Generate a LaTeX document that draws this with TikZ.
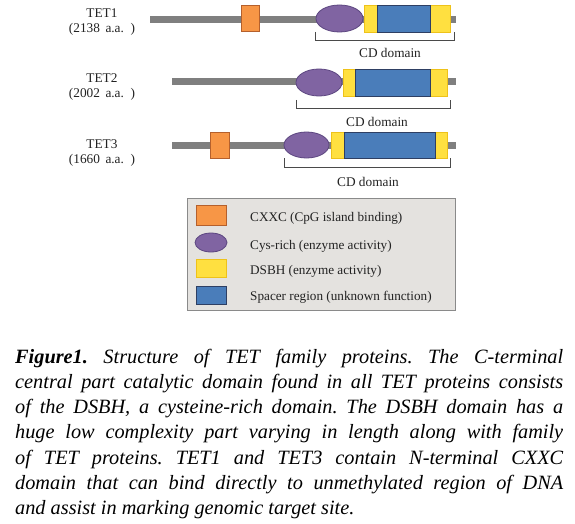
\documentclass[tikz,border=0pt]{standalone}
\usepackage{fontspec}
\setmainfont{Liberation Serif}
\usetikzlibrary{shapes.geometric}
\definecolor{bbone}{HTML}{7F7F7F}
\definecolor{orf}{HTML}{F79646}
\definecolor{ord}{HTML}{B5602C}
\definecolor{puf}{HTML}{8064A2}
\definecolor{pud}{HTML}{5C4680}
\definecolor{yef}{HTML}{FFE040}
\definecolor{yed}{HTML}{EEC21A}
\definecolor{blf}{HTML}{4A7DBA}
\definecolor{bld}{HTML}{2E3F63}
\definecolor{brk}{HTML}{4A4A4A}
\definecolor{legf}{HTML}{E4E2DF}
\definecolor{legd}{HTML}{8A8A8A}
\definecolor{txt}{HTML}{222222}
\tikzset{
  backbone/.style={draw=bbone, line width=7pt},
  cxxc/.style={rectangle, draw=ord, fill=orf, line width=0.8pt, inner sep=0pt},
  cys/.style={ellipse, draw=pud, fill=puf, line width=0.8pt, inner sep=0pt},
  dsbh/.style={rectangle, draw=yed, fill=yef, line width=0.9pt, inner sep=0pt},
  spacer/.style={rectangle, draw=bld, fill=blf, line width=0.9pt, inner sep=0pt},
  bracket/.style={draw=brk, line width=0.8pt},
  lbl/.style={font=\fontsize{13.3}{15}\selectfont, text=txt, inner sep=0pt},
  legtxt/.style={font=\fontsize{13.2}{15}\selectfont, text=txt, inner sep=0pt, anchor=west},
}
\begin{document}
\begin{tikzpicture}[x=1pt,y=-1pt]
\useasboundingbox (0,0) rectangle (575,524);
\fill[white] (0,0) rectangle (575,524);

% ---------- TET1 ----------
\node[lbl] (n1) at (102,13) {TET1};
\node[lbl] (n1b) at (102,29) {(2138\, a.a.\, )};
\coordinate (t1s) at (150,19.3);
\coordinate (t1e) at (456,19.3);
\draw[backbone] (t1s) -- (t1e);
\node[cxxc, minimum width=18pt, minimum height=26pt] (t1o) at (250,18.7) {};
\node[cys, minimum width=47pt, minimum height=27pt] (t1c) at (339.5,18.5) {};
\node[dsbh, minimum width=86pt, minimum height=27pt] (t1y) at (407,18.5) {};
\node[spacer, minimum width=53pt, minimum height=27pt] (t1b) at (403.5,18.5) {};
\coordinate (b1a) at (315,32);
\coordinate (b1b) at (454,32);
\draw[bracket] (b1a) -- ++(0,8) -| (b1b);
\node[lbl] (cd1) at (390,53) {CD domain};

% ---------- TET2 ----------
\node[lbl] (n2) at (102,78) {TET2};
\node[lbl] (n2b) at (102,94) {(2002\, a.a.\, )};
\coordinate (t2s) at (172,82);
\coordinate (t2e) at (456,82);
\draw[backbone] (t2s) -- (t2e);
\node[cys, minimum width=46pt, minimum height=27pt] (t2c) at (319,82.5) {};
\node[dsbh, minimum width=104pt, minimum height=27pt] (t2y) at (395,82.5) {};
\node[spacer, minimum width=75pt, minimum height=27pt] (t2b) at (392.5,82.5) {};
\coordinate (b2a) at (296,100);
\coordinate (b2b) at (450,100);
\draw[bracket] (b2a) -- ++(0,8) -| (b2b);
\node[lbl] (cd2) at (377,122) {CD domain};

% ---------- TET3 ----------
\node[lbl] (n3) at (102,144) {TET3};
\node[lbl] (n3b) at (102,160) {(1660\, a.a.\, )};
\coordinate (t3s) at (172,145);
\coordinate (t3e) at (456,145);
\draw[backbone] (t3s) -- (t3e);
\node[cxxc, minimum width=19pt, minimum height=26pt] (t3o) at (219.5,145) {};
\node[cys, minimum width=45pt, minimum height=26pt] (t3c) at (306.5,145) {};
\node[dsbh, minimum width=116pt, minimum height=26pt] (t3y) at (389,145) {};
\node[spacer, minimum width=91pt, minimum height=26pt] (t3b) at (389.5,145) {};
\coordinate (b3a) at (284,158);
\coordinate (b3b) at (450,158);
\draw[bracket] (b3a) -- ++(0,9) -| (b3b);
\node[lbl] (cd3) at (368,182) {CD domain};

% ---------- Legend ----------
\node[rectangle, draw=legd, fill=legf, line width=0.8pt, minimum width=268pt, minimum height=112pt, inner sep=0pt] (leg) at (321,254) {};
\node[cxxc, minimum width=30pt, minimum height=20pt] (lo) at (211,215) {};
\node[cys, minimum width=32pt, minimum height=19pt] (lc) at (211,242.5) {};
\node[dsbh, minimum width=30pt, minimum height=18pt] (ly) at (211,268) {};
\node[spacer, minimum width=30pt, minimum height=18pt] (lb) at (211,295) {};
\node[legtxt] (lto) at (250,218) {CXXC (CpG island binding)};
\node[legtxt] (ltc) at (250,246) {Cys-rich (enzyme activity)};
\node[legtxt] (lty) at (250,271) {DSBH (enzyme activity)};
\node[legtxt] (ltb) at (250,297) {Spacer region (unknown function)};

% ---------- Caption ----------
\node[anchor=base west, inner sep=0pt, text width=548pt, align=justify,
      font=\fontsize{20.3}{25.3}\selectfont\itshape\frenchspacing, text=black] (cap) at (15,363)
{\hyphenpenalty=10000\tolerance=10000\textbf{Figure1.} Structure of TET family proteins. The C-terminal\linebreak
central part catalytic domain found in all TET proteins consists\linebreak
of the DSBH, a cysteine-rich domain. The DSBH domain has a\linebreak
huge low complexity part varying in length along with family\linebreak
of TET proteins. TET1 and TET3 contain N-terminal CXXC\linebreak
domain that can bind directly to unmethylated region of DNA\linebreak
and assist in marking genomic target site.};
\end{tikzpicture}
\end{document}
